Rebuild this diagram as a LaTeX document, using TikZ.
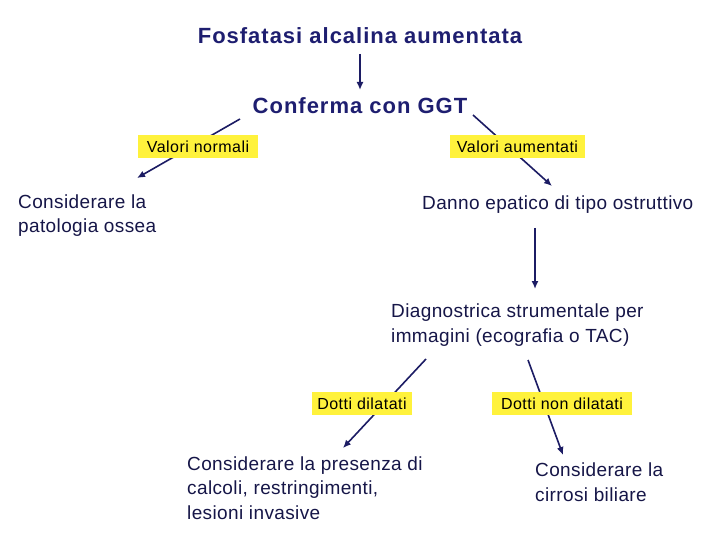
\documentclass[tikz,border=0pt]{standalone}
\usepackage{fontspec}
\setmainfont{Liberation Sans}
\usetikzlibrary{arrows.meta}
\definecolor{navy}{RGB}{30,30,112}
\definecolor{ink}{RGB}{22,22,72}
\definecolor{linec}{RGB}{28,28,100}
\definecolor{labfill}{RGB}{255,242,60}
\tikzset{
  x=1pt, y=-1pt,
  ttl/.style={font=\fontsize{22}{26}\selectfont\bfseries\addfontfeatures{LetterSpace=4.5}, text=navy, inner sep=0pt, anchor=base},
  body/.style={font=\fontsize{19}{24.5}\selectfont\addfontfeatures{LetterSpace=2}, text=ink, align=left, inner sep=0pt, anchor=base west},
  labbox/.style={fill=labfill, font=\fontsize{16}{18}\selectfont\addfontfeatures{LetterSpace=3}, text=black, inner sep=0pt, minimum height=23pt},
  conn/.style={draw=linec, line width=1.6pt, -{Latex[length=8pt,width=7pt]}},
}
\begin{document}
\begin{tikzpicture}
\useasboundingbox[fill=white] (0,0) rectangle (720,540);
% text nodes (base anchor = baseline of last line)
\node[ttl] (fa) at (360,44) {Fosfatasi alcalina aumentata};
\node[ttl] (ggt) at (360,114) {Conferma con GGT};
\node[body] (oss) at (18,233) {Considerare la\\patologia ossea};
\node[body] (dan) at (422,210) {Danno epatico di tipo ostruttivo};
\node[body] (dia) at (391,342) {Diagnostrica strumentale per\\immagini (ecografia o TAC)};
\node[body] (cal) at (187,519) {Considerare la presenza di\\calcoli, restringimenti,\\lesioni invasive};
\node[body] (cir) at (535,501) {Considerare la\\cirrosi biliare};
% connector end points
\coordinate (fa-s) at (360,54);
\coordinate (ggt-n) at (360,90);
\coordinate (ggt-sw) at (240,119);
\coordinate (oss-n) at (137,178);
\coordinate (ggt-se) at (473,115);
\coordinate (dan-n) at (552,186);
\coordinate (dan-s) at (535,228);
\coordinate (dia-n) at (535,289);
\coordinate (dia-sw) at (426,359);
\coordinate (cal-n) at (343,448);
\coordinate (dia-se) at (528,360);
\coordinate (cir-n) at (563,455);
% connectors
\draw[conn] (fa-s) -- (ggt-n);
\draw[conn] (ggt-sw) -- (oss-n);
\draw[conn] (ggt-se) -- (dan-n);
\draw[conn] (dan-s) -- (dia-n);
\draw[conn] (dia-sw) -- (cal-n);
\draw[conn] (dia-se) -- (cir-n);
% labels on connectors
\node[labbox, minimum width=120pt] (vn) at (198,146.5) {Valori normali};
\node[labbox, minimum width=135pt] (va) at (517.5,146.5) {Valori aumentati};
\node[labbox, minimum width=100pt] (dd) at (362,403.5) {Dotti dilatati};
\node[labbox, minimum width=140pt] (dn) at (562,403.5) {Dotti non dilatati};
\end{tikzpicture}
\end{document}
